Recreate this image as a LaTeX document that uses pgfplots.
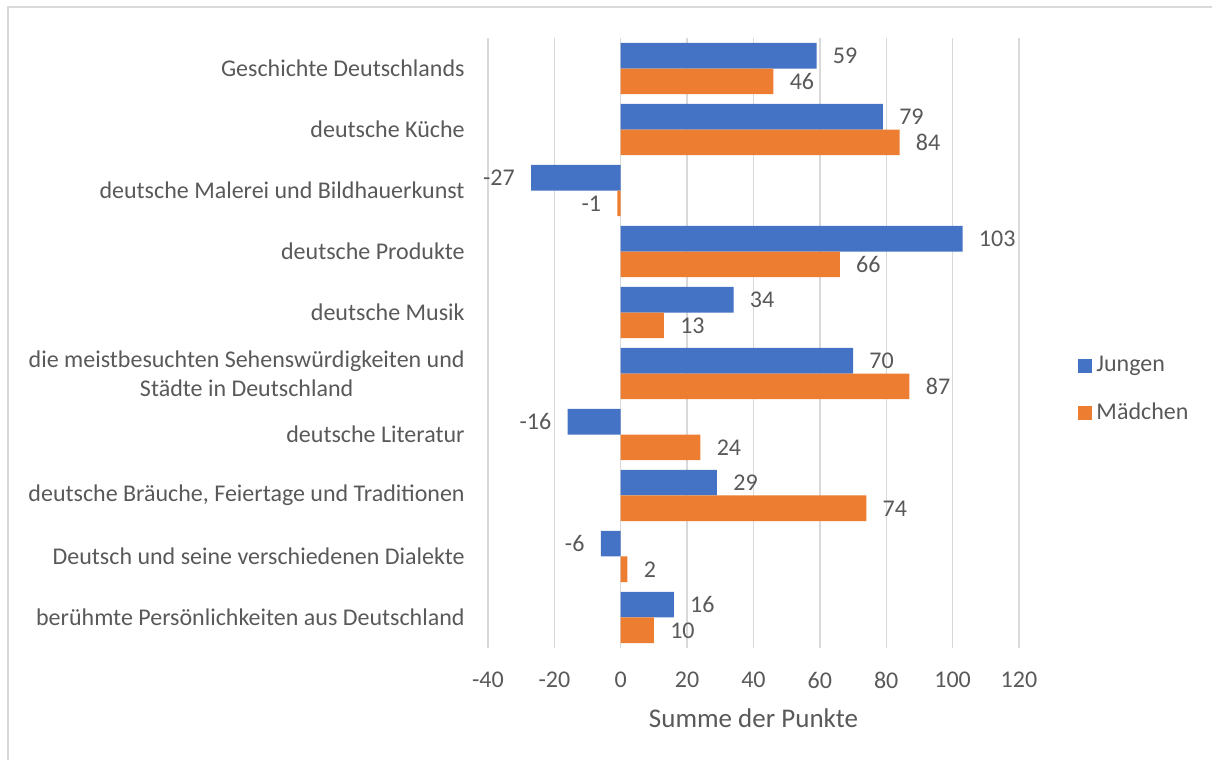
\documentclass[border=0pt]{standalone}
\usepackage{pgfplots}
\pgfplotsset{compat=1.18}
\usepackage{pgfplotstable}
\usepackage{fontspec}
\setmainfont{Carlito}
\definecolor{txt}{HTML}{595959}
\definecolor{cblue}{HTML}{4472C4}
\definecolor{corange}{HTML}{ED7D31}
\definecolor{gridc}{HTML}{D9D9D9}
\pgfplotstableread{
cat J M
9 59 46
8 79 84
7 -27 -1
6 103 66
5 34 13
4 70 87
3 -16 24
2 29 74
1 -6 2
0 16 10
}\data
\begin{document}
\begin{tikzpicture}[font=\fontsize{12}{14.5}\selectfont, text=txt]
\path[use as bounding box] (-244pt,-56pt) rectangle (362pt,324pt);
\draw[gridc, line width=0.8pt] (-240pt,-60pt) -- (-240pt,320.5pt) -- (366pt,320.5pt);
\begin{axis}[
  at={(0,0)}, anchor=south west,
  scale only axis, width=265.5pt, height=305pt,
  xbar, bar width=0.42,
  xmin=-40, xmax=120, ymin=-0.5, ymax=9.5,
  xtick={-40,-20,...,120},
  ytick={0,...,9},
  yticklabels={berühmte Persönlichkeiten aus Deutschland,
    Deutsch und seine verschiedenen Dialekte,
    {deutsche Bräuche, Feiertage und Traditionen},
    deutsche Literatur,
    {die meistbesuchten Sehenswürdigkeiten und\\Städte in Deutschland},
    deutsche Musik, deutsche Produkte,
    deutsche Malerei und Bildhauerkunst,
    deutsche Küche, Geschichte Deutschlands},
  major tick length=0pt,
  axis line style={draw=none},
  xmajorgrids, grid style={gridc, line width=0.7pt},
  /pgf/number format/assume math mode=true,
  xticklabel style={inner sep=0pt, anchor=center, yshift=-16pt, text=txt},
  yticklabel style={inner sep=0pt, anchor=east, align=center, xshift=-11.5pt, text=txt},
  xlabel={Summe der Punkte},
  xlabel style={at={(rel axis cs:0.5,0)}, anchor=center, yshift=-35pt, text=txt, font=\fontsize{13.5}{16}\selectfont},
  nodes near coords, point meta=x,
  nodes near coords align=horizontal,
  every node near coord/.append style={inner xsep=8pt, inner ysep=0pt, text=txt},
  legend style={at={(1.1,0.424)}, anchor=west, draw=none, fill=none,
    row sep=10pt, font=\fontsize{12}{14.5}\selectfont, text=txt,
    /tikz/every even column/.append style={column sep=0pt}},
  legend cell align=left,
  legend image code/.code={\fill[#1,draw=none] (0pt,-3.5pt) rectangle (7pt,3.5pt);},
]
\addplot[fill=cblue, draw=none, bar shift=0.21] table[x=J, y=cat] {\data};
\addplot[fill=corange, draw=none, bar shift=-0.21] table[x=M, y=cat] {\data};
\legend{Jungen, Mädchen}
\end{axis}
\end{tikzpicture}
\end{document}
